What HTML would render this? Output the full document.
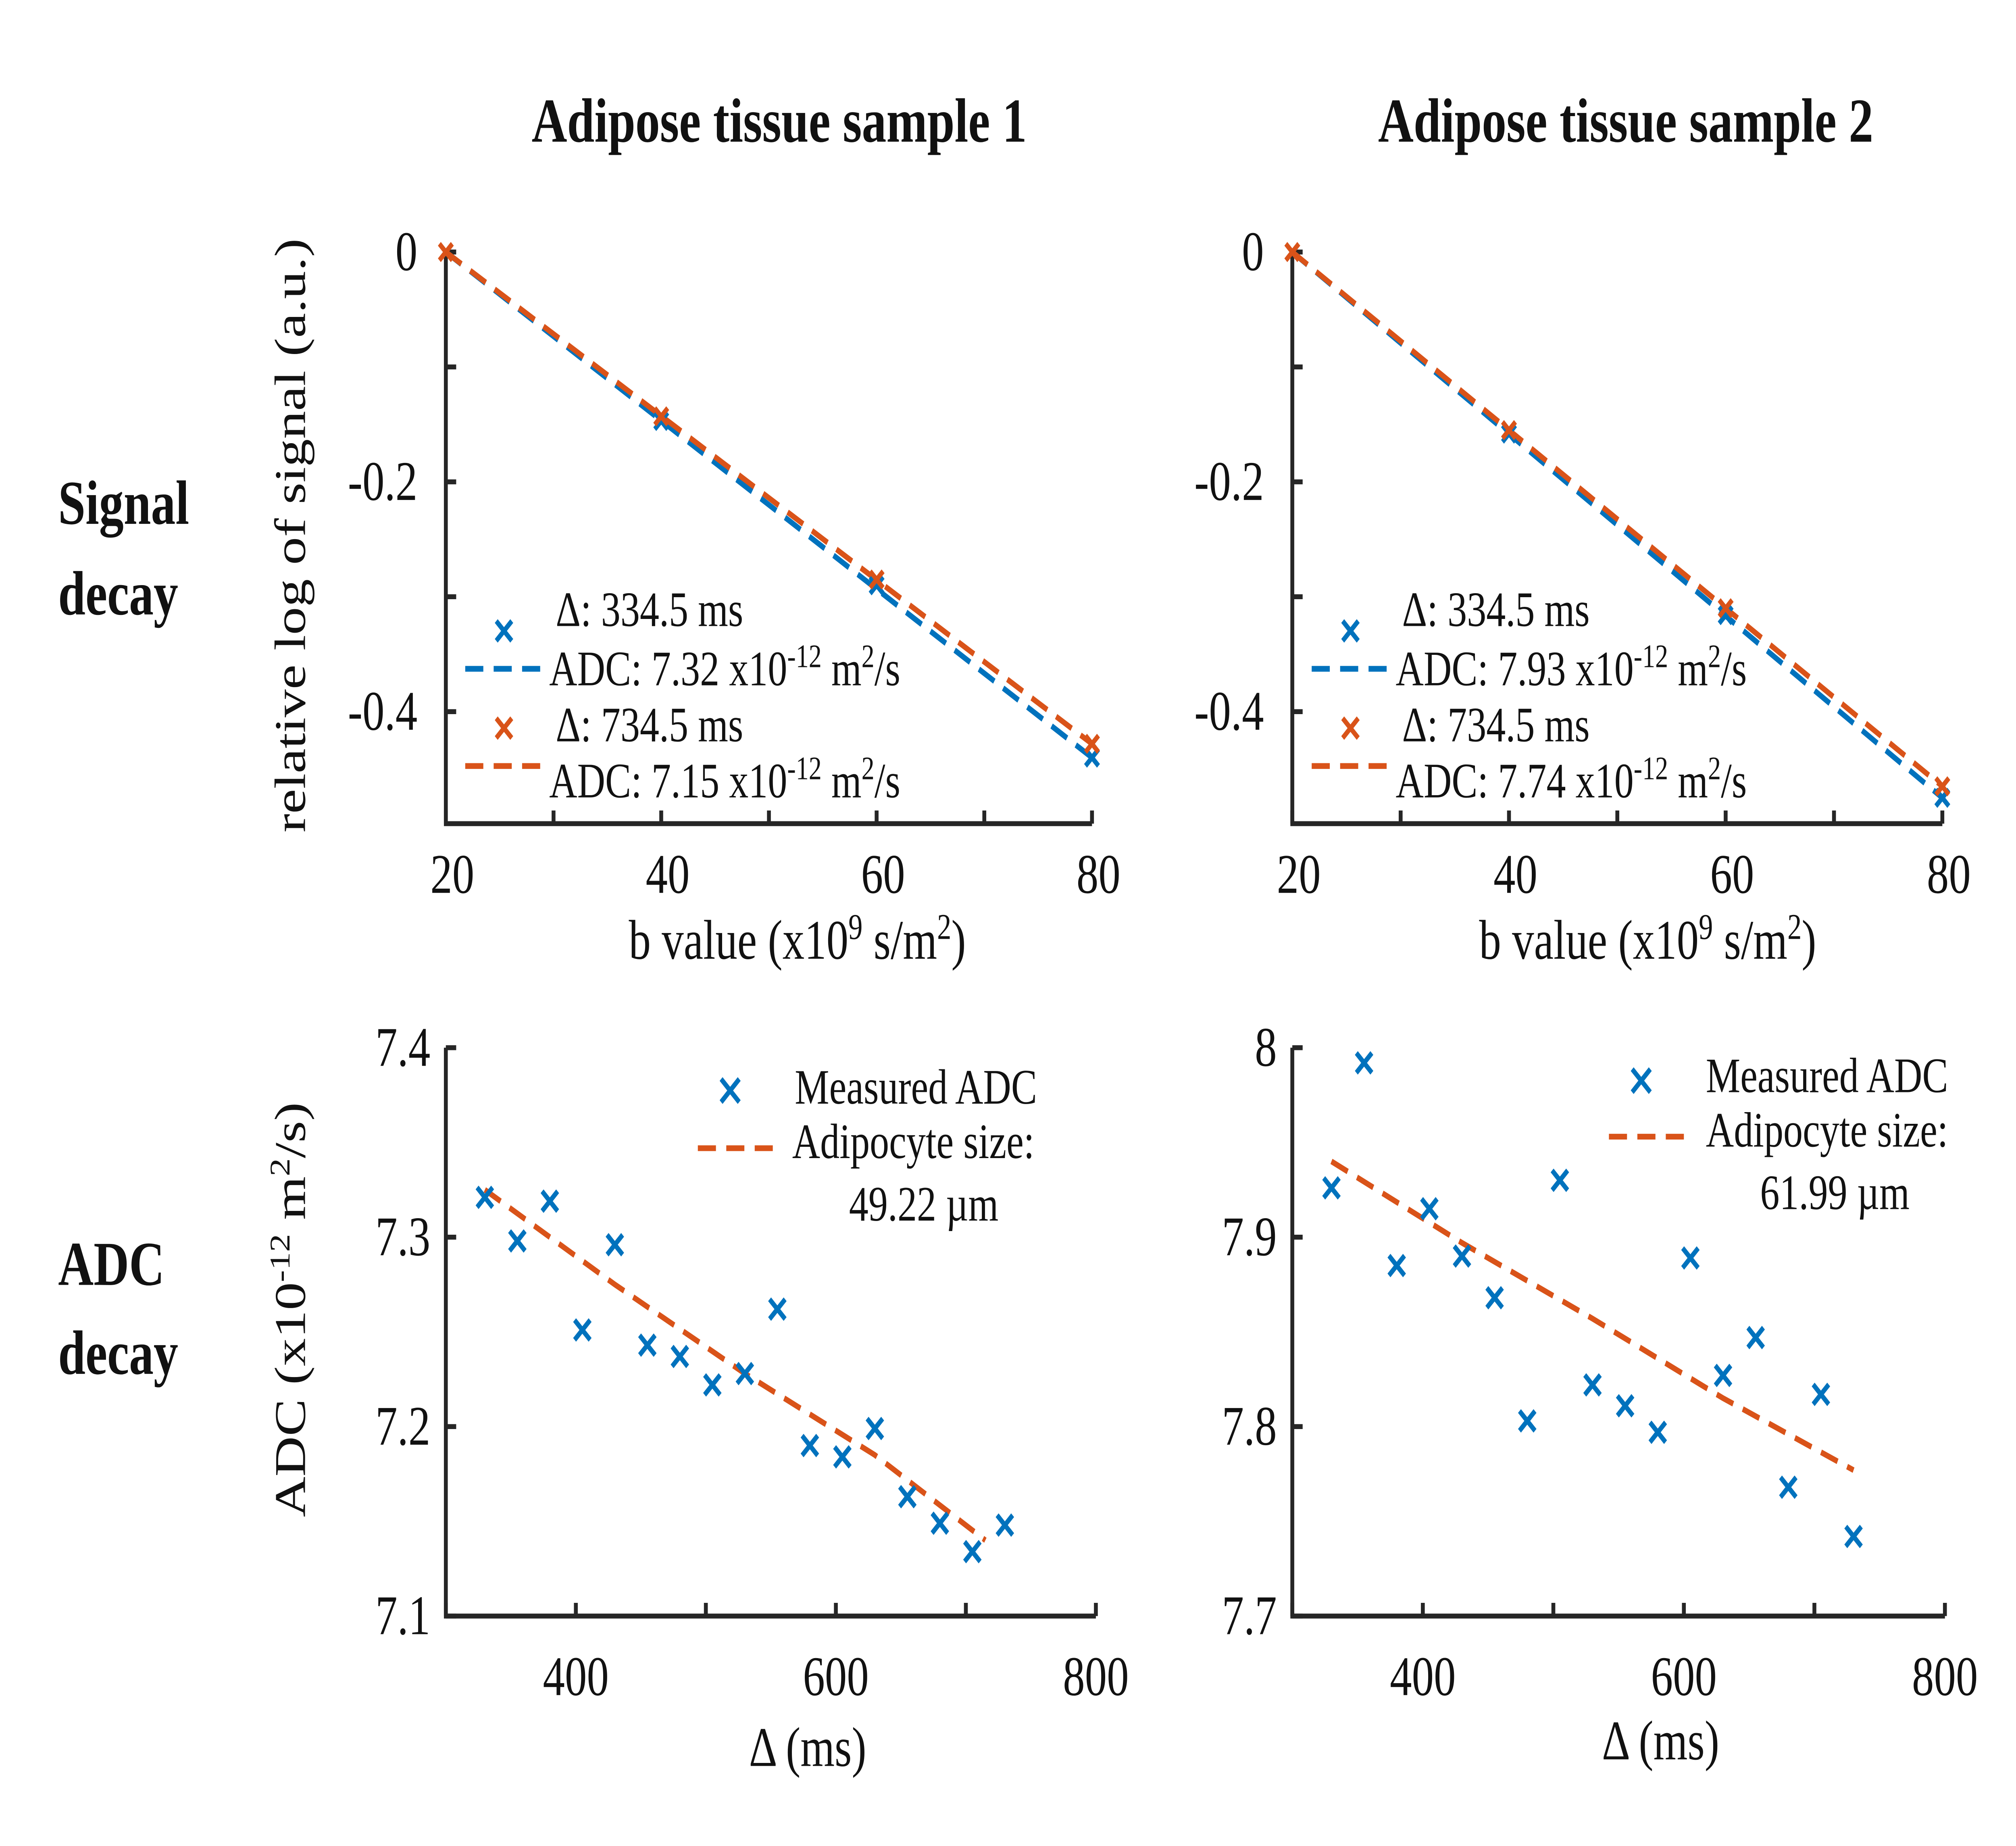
<!DOCTYPE html>
<html><head><meta charset="utf-8"><style>
html,body{margin:0;padding:0;background:#fff;overflow:hidden;width:100%;height:100%}
svg{display:block;width:100vw;height:100vh}
text{font-family:"Liberation Serif",serif;fill:#111}
</style></head><body>
<svg id="c" xmlns="http://www.w3.org/2000/svg" viewBox="0 0 1560 1120.6" preserveAspectRatio="none">
<rect width="1560" height="1121" fill="#fff"/>
<text x="603" y="86" font-size="38" font-weight="bold" text-anchor="middle">Adipose tissue sample 1</text>
<text x="1258" y="86" font-size="38" font-weight="bold" text-anchor="middle">Adipose tissue sample 2</text>
<text x="45" y="318" font-size="38" font-weight="bold">Signal</text>
<text x="45" y="373" font-size="38" font-weight="bold">decay</text>
<text x="45" y="780" font-size="38" font-weight="bold">ADC</text>
<text x="45" y="834" font-size="38" font-weight="bold">decay</text>
<text transform="translate(236,325) rotate(-90)" font-size="34" text-anchor="middle">relative log of signal (a.u.)</text>
<text transform="translate(236,795) rotate(-90)" font-size="34" text-anchor="middle">ADC (x10<tspan font-size="22" dy="-12">-12</tspan><tspan dy="12">  m</tspan><tspan font-size="22" dy="-12">2</tspan><tspan dy="12">/s)</tspan></text>
<text x="617" y="582" font-size="34" text-anchor="middle">b value (x10<tspan font-size="22" dy="-12">9</tspan><tspan dy="12"> s/m</tspan><tspan font-size="22" dy="-12">2</tspan><tspan dy="12">)</tspan></text>
<text x="1275" y="582" font-size="34" text-anchor="middle">b value (x10<tspan font-size="22" dy="-12">9</tspan><tspan dy="12"> s/m</tspan><tspan font-size="22" dy="-12">2</tspan><tspan dy="12">)</tspan></text>
<text x="625" y="1072" font-size="34" text-anchor="middle">Δ (ms)</text>
<text x="1285" y="1068" font-size="34" text-anchor="middle">Δ (ms)</text>
<g id="plots"></g>
</svg>
<script>
const bVals = [20, 40, 60, 80];
const sig1Short = [0, -0.147, -0.290, -0.440];
const sig1Long = [0, -0.143, -0.285, -0.428];
const sig2Short = [0, -0.158, -0.316, -0.475];
const sig2Long = [0, -0.155, -0.310, -0.465];
const deltas = [330,355,380,405,430,455,480,505,530,555,580,605,630,655,680,705,730];
const adc1 = [7.321,7.298,7.319,7.251,7.296,7.243,7.237,7.222,7.228,7.262,7.190,7.184,7.199,7.163,7.149,7.134,7.148];
const adc2 = [7.926,7.992,7.885,7.915,7.890,7.868,7.803,7.930,7.822,7.811,7.797,7.889,7.827,7.847,7.768,7.817,7.742];
const fit1X = [330,430,530,630,715];
const fit1Y = [7.325,7.275,7.228,7.185,7.140];
const fit2X = [330,430,530,630,730];
const fit2Y = [7.940,7.897,7.857,7.815,7.777];
const topTicks = [20,30,40,50,60,70,80];
const topTickLabels = ['20','','40','','60','','80'];
const sigYTicks = [0,-0.1,-0.2,-0.3,-0.4];
const sigYLabels = ['0','','-0.2','','-0.4'];
const dTicks = [300,400,500,600,700,800];
const dLabels = ['','400','','600','','800'];
const adc1Ticks = [7.1,7.2,7.3,7.4];
const adc1Labels = ['7.1','7.2','7.3','7.4'];
const adc2Ticks = [7.7,7.8,7.9,8.0];
const adc2Labels = ['7.7','7.8','7.9','8'];

const NS='http://www.w3.org/2000/svg';
const root=document.getElementById('plots');
const BLUE='#0072BD', ORANGE='#D95319', AX='#262626';
function mk(tag,attrs,parent){const e=document.createElementNS(NS,tag);for(const k in attrs)e.setAttribute(k,attrs[k]);(parent||root).appendChild(e);return e;}
function scale(d0,d1,r0,r1){return v=>r0+(v-d0)/(d1-d0)*(r1-r0);}
function cross(g,x,y,c,s){
  const p=mk('path',{d:`M${x-s},${y-s}L${x+s},${y+s}M${x-s},${y+s}L${x+s},${y-s}`,stroke:c,'stroke-width':3.2,fill:'none'},g);
  
  
}
function topPanel(name,x0,x1,sShort,sLong){
  const g=mk('g',{});
  
  
  const sx=scale(20,80,x0,x1), sy=scale(0,-0.4,153,432);
  const ax=mk('path',{d:`M${x0},153L${x0},500L${x1},500`,stroke:AX,'stroke-width':3,fill:'none'},g);
  
  
  topTicks.forEach((v,i)=>{
    mk('line',{x1:sx(v),x2:sx(v),y1:500,y2:492,stroke:AX,'stroke-width':3},g);
    if(topTickLabels[i]){const t=mk('text',{x:sx(v)+5,y:542,'font-size':34,'text-anchor':'middle'},g);t.textContent=topTickLabels[i];
      
      }
  });
  sigYTicks.forEach((v,i)=>{
    mk('line',{x1:x0,x2:x0+8,y1:sy(v),y2:sy(v),stroke:AX,'stroke-width':3},g);
    if(sigYLabels[i]){const t=mk('text',{x:x0-22,y:sy(v)+11,'font-size':34,'text-anchor':'end'},g);t.textContent=sigYLabels[i];
      
      }
  });
  [[sShort,BLUE],[sLong,ORANGE]].forEach(([s,c])=>{
    const p=mk('path',{d:`M${sx(bVals[0])},${sy(s[0])}L${sx(bVals[3])},${sy(s[3])}`,stroke:c,'stroke-width':3.5,fill:'none','stroke-dasharray':'14,8'},g);
    
    
  });
  bVals.forEach((v,i)=>{if(i>0)cross(g,sx(v),sy(sShort[i]),BLUE,5);});
  bVals.forEach((v,i)=>cross(g,sx(v),sy(sLong[i]),ORANGE,5));
}
topPanel('signal-decay-sample-1',345,845,sig1Short,sig1Long);
topPanel('signal-decay-sample-2',1000,1503,sig2Short,sig2Long);

function bottomPanel(name,x0,x1,yt,yl,fx,fy,ys){
  const g=mk('g',{});
  
  
  const sx=scale(300,800,x0,x1), sy=scale(yt[0],yt[yt.length-1],981,636);
  const ax=mk('path',{d:`M${x0},636L${x0},981L${x1},981`,stroke:AX,'stroke-width':3,fill:'none'},g);
  
  
  dTicks.forEach((v,i)=>{
    mk('line',{x1:sx(v),x2:sx(v),y1:981,y2:973,stroke:AX,'stroke-width':3},g);
    if(dLabels[i]){const t=mk('text',{x:sx(v),y:1029,'font-size':34,'text-anchor':'middle'},g);t.textContent=dLabels[i];
      
      }
  });
  yt.forEach((v,i)=>{
    mk('line',{x1:x0,x2:x0+8,y1:sy(v),y2:sy(v),stroke:AX,'stroke-width':3},g);
    const t=mk('text',{x:x0-12,y:sy(v)+11,'font-size':34,'text-anchor':'end'},g);t.textContent=yl[i];
    
    
  });
  const d=fx.map((v,i)=>(i?'L':'M')+sx(v)+','+sy(fy[i])).join('');
  const p=mk('path',{d:d,stroke:ORANGE,'stroke-width':3.5,fill:'none','stroke-dasharray':'14,8'},g);
  
  
  deltas.forEach((v,i)=>cross(g,sx(v),sy(ys[i]),BLUE,6));
}
bottomPanel('adc-decay-sample-1',345,848,adc1Ticks,adc1Labels,fit1X,fit1Y,adc1);
bottomPanel('adc-decay-sample-2',1000,1505,adc2Ticks,adc2Labels,fit2X,fit2Y,adc2);

function txt(x,y,html,name,size){const t=mk('text',{x:x,y:y,'font-size':size||30},root);t.innerHTML=html;
  
  }
function dash(x1,x2,y,c){const l=mk('line',{x1:x1,x2:x2,y1:y,y2:y,stroke:c,'stroke-width':3.5,'stroke-dasharray':'14,8'},root);
  
  }
const sup='<tspan font-size="20" dy="-11">';
function topLegend(dx,a1,a2){
  cross(root,390+dx,383,BLUE,6);
  txt(430+dx,380,'Δ: 334.5 ms','legend-entry-short');
  dash(360+dx,418+dx,406,BLUE);
  txt(425+dx,416,'ADC: '+a1+' x10'+sup+'-12</tspan><tspan dy="11"> m</tspan>'+sup+'2</tspan><tspan dy="11">/s</tspan>','legend-entry-short-adc');
  cross(root,390+dx,442,ORANGE,6);
  txt(430+dx,450,'Δ: 734.5 ms','legend-entry-long');
  dash(360+dx,418+dx,465,ORANGE);
  txt(425+dx,484,'ADC: '+a2+' x10'+sup+'-12</tspan><tspan dy="11"> m</tspan>'+sup+'2</tspan><tspan dy="11">/s</tspan>','legend-entry-long-adc');
}
topLegend(0,'7.32','7.15');
topLegend(655,'7.93','7.74');
cross(root,565,662,BLUE,7);
txt(615,670,'Measured ADC','legend-measured-adc');
dash(540,600,697,ORANGE);
txt(613,703,'Adipocyte size:','legend-adipocyte-size');
txt(657,741,'49.22 µm','legend-size-value');
cross(root,1270,656,BLUE,7);
txt(1320,663,'Measured ADC','legend-measured-adc');
dash(1245,1305,690,ORANGE);
txt(1320,696,'Adipocyte size:','legend-adipocyte-size');
txt(1362,734,'61.99 µm','legend-size-value');
</script>
</body></html>
